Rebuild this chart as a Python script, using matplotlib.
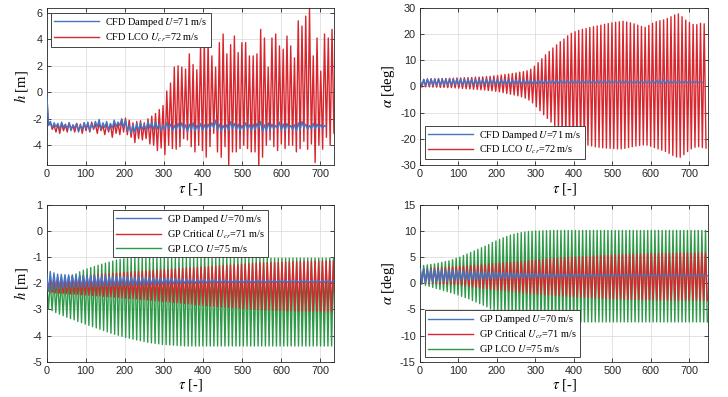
import numpy as np
import matplotlib.pyplot as plt

plt.rcParams['font.family'] = ['Liberation Sans', 'DejaVu Sans']
plt.rcParams['mathtext.fontset'] = 'stix'
plt.rcParams['axes.unicode_minus'] = False

# oscillation periods (tau units) and peak / trough values read per cycle
period_cfd = 9.6
period_gp = 9.4

# --- CFD, plunge h [m] ---
cfd_lco_h_hi = [0.2, -2.25, -2.5, -2.4, -2.35, -2.45, -2.3, -2.5, -2.35, -2.4,
                -2.3, -2.35, -2.25, -2.4, -2.3, -2.5, -2.35, -2.4, -2.2, -2.3,
                -2.05, -1.95, -2.1, -2.3, -2.2, -2.15, -2.3, -2.0, -1.8, -1.6,
                -1.3, -1.0, 0.1, 0.7, 1.9, 2.0, 1.9, 1.75, 2.9, 2.1,
                1.7, 3.6, 3.7, 3.8, 2.75, 1.9, 3.75, 4.4, 2.9, 3.6,
                4.25, 3.0, 3.75, 3.75, 2.75, 2.75, 2.9, 4.75, 4.1, 1.9,
                4.1, 4.4, 3.5, 3.25, 4.25, 3.5, 2.6, 5.4, 5.0, 5.75,
                6.3, 2.75, 4.1, 1.6, 4.4, 4.1, 4.75, 3.0]
cfd_lco_h_lo = [-2.5, -2.8, -3.0, -3.1, -2.9, -3.0, -2.8, -3.0, -2.9, -3.1,
                -2.9, -3.0, -2.8, -3.1, -2.9, -3.2, -3.0, -3.4, -3.1, -3.2,
                -3.0, -3.2, -3.4, -3.8, -3.5, -3.6, -3.5, -3.9, -4.0, -4.4,
                -4.2, -4.7, -4.0, -4.25, -4.3, -4.1, -3.5, -3.6, -4.1, -4.5,
                -4.0, -4.4, -4.9, -4.1, -3.1, -4.5, -4.9, -4.1, -5.5, -4.5,
                -4.5, -4.25, -4.0, -4.25, -4.5, -4.5, -5.6, -4.9, -4.0, -3.6,
                -4.1, -4.4, -3.9, -4.25, -4.0, -4.0, -4.5, -4.25, -3.7, -4.3,
                -3.9, -5.3, -4.0, -4.3, -3.4, -4.0, -3.1, -3.5]
cfd_dmp_h_hi = [0.15, -2.2, -2.3, -2.35, -2.25, -2.4, -2.3, -2.45, -2.35, -2.5,
                -2.3, -2.25, -2.4, -2.2, -2.05, -2.3, -2.2, -2.35, -2.1, -2.25,
                -2.0, -2.1, -2.5, -2.45, -2.35, -2.3, -2.45, -2.2, -2.3, -2.25,
                -2.4, -2.5, -2.3, -2.4, -2.5, -2.35, -2.3, -2.45, -2.4, -2.3,
                -2.5, -2.35, -2.45, -2.4, -2.3, -2.1, -2.4, -2.5, -2.45, -2.2,
                -2.35, -2.4, -2.5, -2.3, -2.45, -2.4, -2.35, -2.2, -2.45, -2.3,
                -2.4, -2.5, -2.25, -2.4, -2.35, -2.5, -2.45, -2.3, -2.2, -2.4,
                -2.5, -2.35, -2.4, -2.45, -2.5]
cfd_dmp_h_lo = [-2.5, -2.7, -2.6, -2.8, -2.65, -2.75, -2.9, -2.7, -3.0, -2.8,
                -2.75, -2.9, -2.7, -2.6, -2.8, -2.65, -2.85, -2.7, -2.6, -2.5,
                -2.65, -2.9, -3.1, -3.0, -2.9, -2.8, -2.85, -2.7, -2.8, -2.75,
                -2.9, -2.8, -2.7, -2.95, -2.85, -2.75, -2.8, -3.0, -2.85, -2.95,
                -2.8, -2.9, -2.85, -2.75, -2.7, -2.85, -2.95, -2.8, -2.9, -2.75,
                -2.85, -2.9, -2.8, -2.75, -2.9, -2.85, -2.7, -3.0, -2.9, -2.85,
                -2.8, -2.7, -2.85, -2.9, -2.75, -2.8, -2.95, -2.85, -2.7, -2.8,
                -2.75, -2.8, -2.7, -2.75, -2.6]

# --- CFD, pitch alpha [deg] ---
cfd_lco_a_hi = [2.2, 2.6, 2.8, 2.9, 2.9, 3.0, 3.0, 3.0, 3.1, 3.1,
                3.2, 3.2, 3.3, 3.3, 3.4, 3.5, 3.5, 3.6, 3.7, 3.8,
                4.0, 4.1, 4.3, 4.5, 4.7, 4.9, 5.1, 5.4, 5.6, 5.9,
                6.5, 7.7, 9.0, 10.5, 12.0, 13.3, 14.6, 15.8, 17.0, 18.0,
                19.2, 20.2, 20.8, 21.3, 21.7, 22.0, 22.4, 22.7, 23.0, 23.3,
                23.6, 23.9, 24.2, 24.4, 24.6, 24.8, 24.5, 24.2, 23.8, 23.3,
                22.8, 22.5, 23.2, 24.0, 24.6, 25.0, 25.3, 25.8, 26.5, 27.2,
                27.6, 26.5, 25.2, 24.3, 23.6, 23.5, 24.0, 23.8]
cfd_lco_a_lo = [-0.3, -0.2, -0.2, -0.3, -0.3, -0.4, -0.4, -0.5, -0.5, -0.6,
                -0.7, -0.8, -0.9, -1.0, -1.1, -1.2, -1.3, -1.4, -1.6, -1.7,
                -1.9, -2.1, -2.4, -2.7, -3.0, -3.3, -3.6, -4.0, -4.5, -5.2,
                -6.3, -7.8, -9.3, -10.8, -12.2, -13.6, -15.0, -16.2, -17.4, -18.5,
                -19.5, -20.3, -21.0, -21.5, -22.0, -22.4, -22.7, -23.0, -23.2, -23.4,
                -23.5, -23.6, -23.7, -23.8, -23.8, -23.6, -23.3, -23.0, -22.7, -22.5,
                -22.3, -22.4, -22.8, -23.3, -23.8, -24.3, -24.8, -25.5, -26.3, -26.9,
                -27.0, -26.0, -24.8, -23.8, -23.2, -23.0, -23.3, -23.5]
cfd_dmp_a_hi = [2.2, 2.7, 2.8, 2.8, 2.8, 2.8, 2.8, 2.8, 2.8, 2.75,
                2.75, 2.75, 2.75, 2.7, 2.7, 2.7, 2.7, 2.65, 2.65, 2.65,
                2.6, 2.6, 2.6, 2.55, 2.55, 2.5, 2.5, 2.5, 2.45, 2.45,
                2.4, 2.4, 2.4, 2.35, 2.35, 2.3, 2.3, 2.3, 2.25, 2.25,
                2.2, 2.2, 2.2, 2.15, 2.15, 2.2, 2.15, 2.1, 2.1, 2.1,
                2.05, 2.1, 2.0, 2.05, 2.0, 2.1, 2.05, 2.0, 2.0, 2.05,
                2.0, 2.0, 2.05, 2.1, 2.2, 2.4, 2.5, 2.2, 2.05, 2.0,
                1.95, 1.95, 1.9, 1.9, 1.9, 1.85, 1.85]
cfd_dmp_a_lo = [0.3, 0.3, 0.35, 0.35, 0.4, 0.4, 0.45, 0.45, 0.5, 0.5,
                0.5, 0.55, 0.55, 0.6, 0.6, 0.65, 0.65, 0.7, 0.7, 0.75,
                0.75, 0.8, 0.8, 0.85, 0.85, 0.9, 0.9, 0.95, 0.95, 1.0,
                1.0, 1.05, 1.05, 1.1, 1.1, 1.15, 1.15, 1.2, 1.2, 1.2,
                1.25, 1.25, 1.25, 1.3, 1.3, 1.25, 1.3, 1.3, 1.3, 1.35,
                1.35, 1.3, 1.35, 1.35, 1.3, 1.35, 1.35, 1.3, 1.35, 1.35,
                1.3, 1.35, 1.3, 1.25, 1.2, 1.1, 1.1, 1.2, 1.3, 1.35,
                1.4, 1.4, 1.4, 1.45, 1.45, 1.45, 1.5]

# --- GP, plunge h [m] ---
gp_dmp_h_hi = ([-1.65, -1.55, -1.6, -1.65, -1.66, -1.67, -1.68, -1.68, -1.69, -1.69,
                -1.7, -1.7, -1.71, -1.71, -1.72, -1.72, -1.73, -1.73, -1.74, -1.74,
                -1.75, -1.75, -1.76, -1.76, -1.77, -1.77, -1.78, -1.78, -1.79, -1.79,
                -1.8, -1.8, -1.81, -1.81, -1.82, -1.82, -1.83, -1.83, -1.84, -1.84,
                -1.85, -1.85, -1.85, -1.86, -1.86, -1.86, -1.87, -1.87, -1.87, -1.87]
               + [-1.88] * 10 + [-1.89] * 10 + [-1.9] * 10)
gp_dmp_h_lo = ([-2.3, -2.25, -2.22, -2.2, -2.19, -2.18, -2.17, -2.16, -2.15, -2.15,
                -2.14, -2.14, -2.13, -2.13, -2.12, -2.12, -2.11, -2.11, -2.1, -2.1,
                -2.09, -2.09, -2.08, -2.08, -2.07, -2.07, -2.06, -2.06, -2.05, -2.05,
                -2.04, -2.04, -2.03, -2.03, -2.02, -2.02, -2.01, -2.01, -2.0, -2.0,
                -2.0, -1.99, -1.99, -1.99, -1.98, -1.98, -1.98, -1.98, -1.97, -1.97]
               + [-1.97] * 10 + [-1.96] * 20)
gp_crt_h_hi = [-1.85, -1.82, -1.8, -1.79, -1.78, -1.77, -1.76, -1.74, -1.73, -1.72,
               -1.71, -1.7, -1.69, -1.67, -1.66, -1.65, -1.64, -1.63, -1.62, -1.61,
               -1.6, -1.59, -1.58, -1.57, -1.56, -1.55, -1.54, -1.53, -1.52, -1.51,
               -1.5, -1.49, -1.48, -1.47, -1.46, -1.45, -1.44, -1.43, -1.42, -1.41,
               -1.4, -1.39, -1.38, -1.37, -1.36, -1.35, -1.34, -1.33, -1.32, -1.31,
               -1.3, -1.29, -1.28, -1.27, -1.26, -1.25, -1.24, -1.23, -1.22, -1.21,
               -1.21, -1.2, -1.2, -1.19, -1.19, -1.18, -1.18, -1.17, -1.17, -1.16,
               -1.16, -1.16, -1.15, -1.15, -1.15, -1.15, -1.15, -1.14, -1.14, -1.14]
gp_crt_h_lo = [-2.3, -2.35, -2.37, -2.38, -2.39, -2.4, -2.41, -2.42, -2.43, -2.44,
               -2.45, -2.46, -2.47, -2.48, -2.49, -2.5, -2.51, -2.52, -2.53, -2.54,
               -2.56, -2.57, -2.58, -2.59, -2.6, -2.62, -2.63, -2.64, -2.65, -2.67,
               -2.68, -2.7, -2.71, -2.72, -2.74, -2.75, -2.76, -2.78, -2.79, -2.8,
               -2.82, -2.83, -2.84, -2.86, -2.87, -2.88, -2.9, -2.91, -2.92, -2.93,
               -2.94, -2.95, -2.96, -2.97, -2.98, -2.99, -3.0, -3.01, -3.02, -3.02,
               -3.03, -3.04, -3.04, -3.05, -3.05, -3.06, -3.06, -3.07, -3.07, -3.08,
               -3.08, -3.08, -3.09, -3.09, -3.09, -3.1, -3.1, -3.1, -3.1, -3.1]
gp_lco_h_hi = ([-1.95, -1.9, -1.88, -1.86, -1.84, -1.8, -1.76, -1.7, -1.64, -1.56,
                -1.5, -1.45, -1.4, -1.36, -1.31, -1.27, -1.23, -1.19, -1.15, -1.11,
                -1.08, -1.06, -1.05, -1.04] + [-1.04] * 56)
gp_lco_h_lo = ([-3.0, -3.05, -3.12, -3.18, -3.24, -3.3, -3.35, -3.4, -3.46, -3.51,
                -3.56, -3.61, -3.66, -3.71, -3.76, -3.81, -3.86, -3.91, -3.95, -3.99,
                -4.03, -4.07, -4.1, -4.14, -4.17, -4.2, -4.23, -4.26, -4.28, -4.3,
                -4.32, -4.34, -4.35, -4.36, -4.37, -4.38, -4.39] + [-4.4] * 43)

# --- GP, pitch alpha [deg] ---
gp_dmp_a_hi = [2.8, 2.75, 2.7, 2.65, 2.6, 2.6, 2.55, 2.5, 2.5, 2.45,
               2.4, 2.4, 2.35, 2.3, 2.3, 2.25, 2.25, 2.2, 2.2, 2.15,
               2.1, 2.1, 2.05, 2.05, 2.0, 2.0, 1.95, 1.95, 1.9, 1.9,
               1.9, 1.85, 1.85, 1.85, 1.8, 1.8, 1.8, 1.78, 1.76, 1.75,
               1.74, 1.72, 1.71, 1.7, 1.69, 1.68, 1.67, 1.66, 1.65, 1.64,
               1.63, 1.62, 1.61, 1.6, 1.6, 1.59, 1.58, 1.58, 1.57, 1.57,
               1.56, 1.56, 1.55, 1.55, 1.54, 1.54, 1.53, 1.53, 1.52, 1.52,
               1.52, 1.51, 1.51, 1.51, 1.5, 1.5, 1.5, 1.5, 1.5, 1.5]
gp_dmp_a_lo = [0.0, 0.1, 0.15, 0.2, 0.25, 0.3, 0.35, 0.4, 0.45, 0.5,
               0.55, 0.6, 0.62, 0.65, 0.68, 0.7, 0.73, 0.75, 0.78, 0.8,
               0.85, 0.88, 0.9, 0.93, 0.95, 0.98, 1.0, 1.02, 1.04, 1.06,
               1.08, 1.1, 1.12, 1.14, 1.15, 1.17, 1.18, 1.2, 1.21, 1.22,
               1.24, 1.25, 1.26, 1.27, 1.28, 1.29, 1.3, 1.31, 1.32, 1.33,
               1.34, 1.34, 1.35, 1.36, 1.36, 1.37, 1.37, 1.38, 1.38, 1.39,
               1.39, 1.4, 1.4, 1.4, 1.41, 1.41, 1.42, 1.42, 1.42, 1.43,
               1.43, 1.43, 1.44, 1.44, 1.44, 1.44, 1.45, 1.45, 1.45, 1.45]
gp_crt_a_hi = [2.6, 2.7, 2.75, 2.8, 2.85, 2.9, 2.95, 3.0, 3.05, 3.1,
               3.15, 3.2, 3.3, 3.35, 3.4, 3.45, 3.5, 3.55, 3.6, 3.7,
               3.75, 3.8, 3.85, 3.9, 4.0, 4.05, 4.1, 4.15, 4.2, 4.3,
               4.35, 4.4, 4.45, 4.5, 4.55, 4.6, 4.7, 4.75, 4.8, 4.85,
               4.9, 4.95, 5.0, 5.05, 5.1, 5.1, 5.15, 5.2, 5.25, 5.3,
               5.3, 5.35, 5.4, 5.4, 5.45, 5.5, 5.5, 5.55, 5.55, 5.6,
               5.6, 5.6, 5.65, 5.65, 5.7, 5.7, 5.7, 5.75, 5.75, 5.75,
               5.75, 5.8, 5.8, 5.8, 5.8, 5.8, 5.8, 5.8, 5.8, 5.8]
gp_crt_a_lo = ([0.1, 0.05, 0.0, 0.0, -0.05, -0.1, -0.1, -0.15, -0.2, -0.25,
                -0.3, -0.4, -0.5, -0.6, -0.7, -0.8, -0.9, -1.0, -1.05, -1.15,
                -1.2, -1.3, -1.4, -1.45, -1.55, -1.6, -1.7, -1.75, -1.85, -1.9,
                -1.95, -2.0, -2.1, -2.15, -2.2, -2.25, -2.3, -2.35, -2.4, -2.45,
                -2.5, -2.55, -2.6, -2.65, -2.7, -2.7, -2.75, -2.8, -2.85, -2.9,
                -2.9, -2.95, -3.0, -3.0, -3.05, -3.05, -3.1, -3.1, -3.1, -3.15,
                -3.15, -3.2, -3.2, -3.2, -3.2, -3.25, -3.25, -3.25, -3.25, -3.3]
               + [-3.3] * 10)
gp_lco_a_hi = ([3.3, 3.4, 3.5, 3.6, 3.7, 3.85, 4.0, 4.15, 4.3, 4.5,
                4.8, 5.0, 5.3, 5.6, 5.9, 6.2, 6.5, 6.8, 7.1, 7.4,
                7.8, 8.1, 8.4, 8.7, 8.95, 9.2, 9.4, 9.55, 9.7, 9.8,
                9.9, 9.95, 10.0, 10.0, 10.05, 10.05, 10.1, 10.1, 10.1, 10.1]
               + [10.1] * 40)
gp_lco_a_lo = ([-0.2, -0.4, -0.6, -0.8, -1.0, -1.2, -1.4, -1.6, -1.8, -2.0,
                -2.25, -2.5, -2.75, -3.0, -3.3, -3.6, -3.9, -4.2, -4.5, -4.9,
                -5.2, -5.5, -5.8, -6.0, -6.2, -6.4, -6.6, -6.75, -6.9, -7.0,
                -7.1, -7.15, -7.2, -7.25, -7.3, -7.3, -7.35, -7.35, -7.4, -7.4]
               + [-7.4] * 40)

c_blue = '#4474c4'
c_red = '#d8262e'
c_green = '#2e9a48'


def zigzag(period, hi, lo):
    """Join the per-cycle peaks and troughs into one line."""
    n = min(len(hi), len(lo))
    t = np.empty(2 * n)
    y = np.empty(2 * n)
    t[0::2] = np.arange(n) * period
    t[1::2] = np.arange(n) * period + period / 2
    y[0::2] = hi[:n]
    y[1::2] = lo[:n]
    return t, y


def style(ax, xmax, ylim, yticks, ylabel):
    ax.set_xlim(0, xmax)
    ax.set_ylim(*ylim)
    ax.set_xticks(np.arange(0, 701, 100))
    ax.set_yticks(yticks)
    ax.grid(True, color='#dedede', linewidth=0.6)
    ax.set_axisbelow(True)
    ax.tick_params(direction='in', length=3, width=0.6, labelsize=7.8,
                   colors='#262626', top=True, right=True, pad=3)
    for s in ax.spines.values():
        s.set_linewidth(0.6)
        s.set_color('#262626')
    ax.set_xlabel(r'$\tau$ [-]', fontsize=10.5, family='Liberation Serif', labelpad=1)
    ax.set_ylabel(ylabel, fontsize=10.5, family='Liberation Serif', labelpad=2)


def legend(ax, **kw):
    leg = ax.legend(prop={'family': 'Liberation Serif', 'size': 7.4},
                    fancybox=False, framealpha=1, edgecolor='#262626',
                    handlelength=4.4, handletextpad=0.6, labelspacing=0.22,
                    borderpad=0.3, borderaxespad=0, **kw)
    leg.get_frame().set_linewidth(0.6)
    for ln in leg.get_lines():
        ln.set_linewidth(1.0)


fig = plt.figure(figsize=(7.28, 3.97), dpi=100)
ax1 = fig.add_axes([0.064, 0.584, 0.395, 0.397])
ax2 = fig.add_axes([0.577, 0.584, 0.396, 0.397])
ax3 = fig.add_axes([0.064, 0.089, 0.395, 0.395])
ax4 = fig.add_axes([0.577, 0.089, 0.396, 0.395])

lw = 1.0

# top left: CFD plunge
t, y = zigzag(period_cfd, cfd_lco_h_hi, cfd_lco_h_lo)
l_lco, = ax1.plot(t, y, color=c_red, lw=lw, zorder=2)
t, y = zigzag(period_cfd, cfd_dmp_h_hi, cfd_dmp_h_lo)
l_dmp, = ax1.plot(t, y, color=c_blue, lw=lw, zorder=3)
style(ax1, 735, (-5.5, 6.4), [-4, -2, 0, 2, 4, 6], r'$h$ [m]')
legend(ax1, handles=[l_dmp, l_lco],
       labels=[r'CFD Damped $U$=71 m/s', r'CFD LCO $U_{cr}$=72 m/s'],
       loc='upper left', bbox_to_anchor=(0.015, 0.966))

# top right: CFD pitch
t, y = zigzag(period_cfd, cfd_lco_a_hi, cfd_lco_a_lo)
l_lco, = ax2.plot(t, y, color=c_red, lw=lw, zorder=2)
t, y = zigzag(period_cfd, cfd_dmp_a_hi, cfd_dmp_a_lo)
l_dmp, = ax2.plot(t, y, color=c_blue, lw=lw, zorder=3)
style(ax2, 750, (-30, 30), np.arange(-30, 31, 10), r'$\alpha$ [deg]')
legend(ax2, handles=[l_dmp, l_lco],
       labels=[r'CFD Damped $U$=71 m/s', r'CFD LCO $U_{cr}$=72 m/s'],
       loc='lower left', bbox_to_anchor=(0.017, 0.036))

# bottom left: GP plunge
t, y = zigzag(period_gp, gp_lco_h_hi, gp_lco_h_lo)
l_lco, = ax3.plot(t, y, color=c_green, lw=lw, zorder=2)
t, y = zigzag(period_gp, gp_crt_h_hi, gp_crt_h_lo)
l_crt, = ax3.plot(t, y, color=c_red, lw=lw, zorder=3)
t, y = zigzag(period_gp, gp_dmp_h_hi, gp_dmp_h_lo)
l_dmp, = ax3.plot(t, y, color=c_blue, lw=lw, zorder=4)
style(ax3, 735, (-5, 1), np.arange(-5, 2, 1), r'$h$ [m]')
legend(ax3, handles=[l_dmp, l_crt, l_lco],
       labels=[r'GP Damped $U$=70 m/s', r'GP Critical $U_{cr}$=71 m/s',
               r'GP LCO $U$=75 m/s'],
       loc='upper center', bbox_to_anchor=(0.5, 0.968))

# bottom right: GP pitch
t, y = zigzag(period_gp, gp_lco_a_hi, gp_lco_a_lo)
l_lco, = ax4.plot(t, y, color=c_green, lw=lw, zorder=2)
t, y = zigzag(period_gp, gp_crt_a_hi, gp_crt_a_lo)
l_crt, = ax4.plot(t, y, color=c_red, lw=lw, zorder=3)
t, y = zigzag(period_gp, gp_dmp_a_hi, gp_dmp_a_lo)
l_dmp, = ax4.plot(t, y, color=c_blue, lw=lw, zorder=4)
style(ax4, 750, (-15, 15), np.arange(-15, 16, 5), r'$\alpha$ [deg]')
legend(ax4, handles=[l_dmp, l_crt, l_lco],
       labels=[r'GP Damped $U$=70 m/s', r'GP Critical $U_{cr}$=71 m/s',
               r'GP LCO $U$=75 m/s'],
       loc='lower left', bbox_to_anchor=(0.017, 0.028))

fig.savefig('out.png', dpi=100)
